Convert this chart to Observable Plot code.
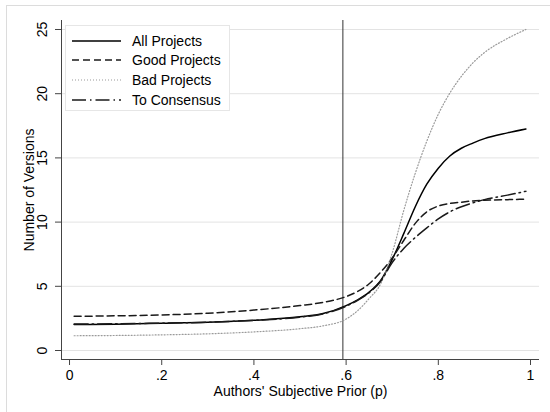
<!DOCTYPE html>
<html>
<head>
<meta charset="utf-8">
<script src="https://cdn.jsdelivr.net/npm/d3@7"></script>
<script src="https://cdn.jsdelivr.net/npm/@observablehq/plot@0.6"></script>
<style>
  body { margin: 0; background: #fff; font-family: "Liberation Sans", Arial, Helvetica, sans-serif; }
  #wrap { position: relative; width: 550px; height: 412px; overflow: hidden; }
  #outer { position: absolute; left: 6px; top: 5px; right: 0; bottom: 0; border-top: 1px solid #dcdcdc; border-left: 1px solid #dcdcdc; }
  #legend { position: absolute; left: 65px; top: 25px; width: 163px; height: 84px; background: #fff; border: 1px solid #e6e6e6; }
  .row { position: absolute; left: 0; height: 20px; width: 163px; }
  .row svg { position: absolute; left: 5px; top: 0; }
  .row span { position: absolute; left: 66px; top: 1px; font-size: 14px; line-height: 18px; color: #000; }
</style>
</head>
<body>
<div id="wrap"><div id="outer"></div><div id="chart"></div><div id="legend"></div></div>
<script>
const p = [0.01, 0.1, 0.2, 0.3, 0.4, 0.5, 0.55, 0.6, 0.625, 0.65, 0.675, 0.7, 0.725, 0.75, 0.775, 0.8, 0.825, 0.85, 0.875, 0.9, 0.95, 0.99];
const allProjects  = [2.02, 2.05, 2.12, 2.2, 2.35, 2.62, 2.88, 3.5, 3.95, 4.55, 5.45, 7.1, 9.1, 11.2, 12.95, 14.2, 15.15, 15.75, 16.15, 16.5, 16.95, 17.25];
const goodProjects = [2.66, 2.7, 2.77, 2.9, 3.15, 3.5, 3.75, 4.2, 4.6, 5.2, 6.1, 7.2, 8.57, 9.9, 10.8, 11.25, 11.45, 11.55, 11.65, 11.7, 11.75, 11.78];
const badProjects  = [1.15, 1.17, 1.22, 1.3, 1.45, 1.7, 1.92, 2.45, 3.1, 4.05, 5.2, 7.6, 10.9, 13.8, 16.3, 18.4, 20.05, 21.35, 22.4, 23.2, 24.3, 25.0];
const toConsensus  = [2.07, 2.08, 2.13, 2.2, 2.35, 2.6, 2.85, 3.45, 3.9, 4.5, 5.4, 6.85, 7.95, 8.8, 9.55, 10.25, 10.8, 11.2, 11.5, 11.75, 12.1, 12.4];
const seriesNames = ["All Projects", "Good Projects", "Bad Projects", "To Consensus"];
const xTicks = [0, 0.2, 0.4, 0.6, 0.8, 1];
const yTicks = [0, 5, 10, 15, 20, 25];
const priorLine = [0.593];
const xTitle = "Authors' Subjective Prior (p)";
const yTitle = "Number of Versions";

const styles = {
  "All Projects":  {stroke: "#000", strokeWidth: 1.5, dash: null},
  "Good Projects": {stroke: "#1a1a1a", strokeWidth: 1.5, dash: "7,4"},
  "Bad Projects":  {stroke: "#9a9a9a", strokeWidth: 1.2, dash: "1,2"},
  "To Consensus":  {stroke: "#1a1a1a", strokeWidth: 1.5, dash: "14,4,1.5,4"}
};
const values = [allProjects, goodProjects, badProjects, toConsensus];
const series = seriesNames.map((name, i) => ({name, data: p.map((x, j) => ({p: x, v: values[i][j]}))}));

const fmt = d => d === 0 ? "0" : d === 1 ? "1" : String(d).replace(/^0/, "");
const xDom = [-0.0174, 1.0195];
const yDom = [-0.70, 25.70];

const chart = Plot.plot({
  width: 550, height: 412,
  marginLeft: 61, marginRight: 11, marginTop: 20, marginBottom: 53,
  style: {fontFamily: "'Liberation Sans', Arial, Helvetica, sans-serif", fontSize: "14px", color: "#000", background: "transparent"},
  x: {domain: xDom},
  y: {domain: yDom},
  marks: [
    Plot.gridY(yTicks, {stroke: "#e3e3e3", strokeOpacity: 1, strokeWidth: 1}),
    Plot.ruleX(priorLine, {stroke: "#333", strokeWidth: 1}),
    ...series.map(s => Plot.line(s.data, {
      x: "p", y: "v", curve: "monotone-x",
      stroke: styles[s.name].stroke, strokeWidth: styles[s.name].strokeWidth,
      strokeDasharray: styles[s.name].dash
    })),
    Plot.ruleY([yDom[0]], {stroke: "#444", strokeWidth: 1}),
    Plot.ruleX([xDom[0]], {stroke: "#444", strokeWidth: 1}),
    Plot.axisX(xTicks, {tickSize: 6, tickPadding: 5, tickFormat: fmt, stroke: "#444", label: null, fontSize: 14}),
    Plot.axisY(yTicks, {tickSize: 6, tickFormat: () => "", stroke: "#444", label: null}),
    Plot.text(yTicks, {y: d => d, text: d => String(d), frameAnchor: "left", dx: -19, rotate: -90, textAnchor: "middle", lineAnchor: "middle", fontSize: 14, fill: "#000"}),
    Plot.text([xTitle], {frameAnchor: "bottom", dy: 32, textAnchor: "middle", lineAnchor: "middle", fontSize: 14, fill: "#000"}),
    Plot.text([yTitle], {frameAnchor: "left", dx: -32, rotate: -90, textAnchor: "middle", lineAnchor: "middle", fontSize: 14, fill: "#000"})
  ]
});
document.getElementById("chart").appendChild(chart);

const legend = document.getElementById("legend");
const rowTops = [5, 24, 44, 64];
seriesNames.forEach((name, i) => {
  const st = styles[name];
  const row = document.createElement("div");
  row.className = "row";
  row.style.top = rowTops[i] + "px";
  row.innerHTML = `<svg width="52" height="20"><line x1="1" x2="50" y1="10" y2="10" stroke="${st.stroke}" stroke-width="${st.strokeWidth}" ${st.dash ? `stroke-dasharray="${st.dash}"` : ""}/></svg><span>${name}</span>`;
  legend.appendChild(row);
});
</script>
</body>
</html>
